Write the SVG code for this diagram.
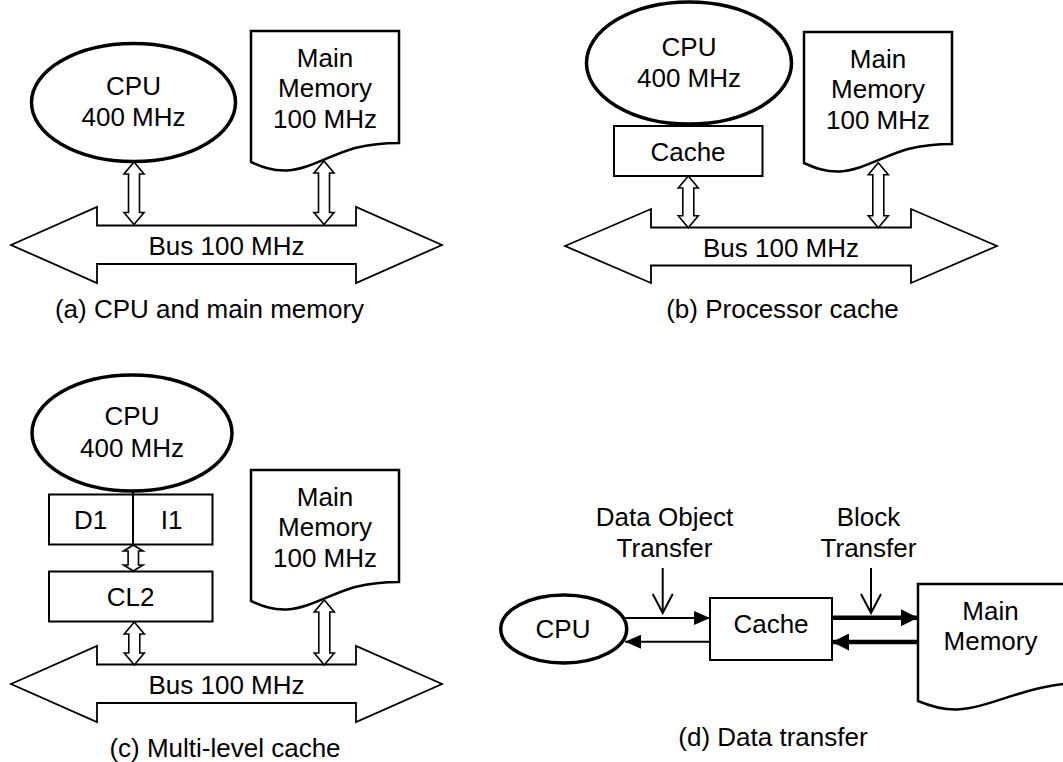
<svg xmlns="http://www.w3.org/2000/svg" width="1063" height="762" viewBox="0 0 1063 762">
<style>
text{font-family:"Liberation Sans",Arial,sans-serif;font-size:26px;fill:#000;text-anchor:middle}
.cpu{fill:#fff;stroke:#000;stroke-width:3.5}
.box{fill:#fff;stroke:#000;stroke-width:2}
.mem{fill:#fff;stroke:#000;stroke-width:2.5;stroke-linejoin:miter}
.bus{fill:#fff;stroke:#000;stroke-width:1.8;stroke-linejoin:miter}
.dbl{fill:#fff;stroke:#000;stroke-width:1.6;stroke-linejoin:miter}
.thin{stroke:#000;stroke-width:2;fill:none}
.thick{stroke:#000;stroke-width:4.5;fill:none}
.ptr{stroke:#000;stroke-width:2;fill:none}
</style>
<defs>
<marker id="hThin" markerUnits="userSpaceOnUse" viewBox="0 0 16 14" refX="16" refY="7" markerWidth="16" markerHeight="14" orient="auto"><path d="M0,0 L16,7 L0,14 Z" fill="#000"/></marker>
<marker id="hThick" markerUnits="userSpaceOnUse" viewBox="0 0 17 17" refX="17" refY="8.5" markerWidth="17" markerHeight="17" orient="auto"><path d="M0,0 L17,8.5 L0,17 Z" fill="#000"/></marker>
<marker id="hOpen" markerUnits="userSpaceOnUse" viewBox="0 0 22 22" refX="20" refY="11" markerWidth="22" markerHeight="22" orient="auto"><path d="M1,1 L20,11 L1,21" fill="none" stroke="#000" stroke-width="2"/></marker>
</defs>

<!-- Panel (a) -->
<g id="a-cpu"><ellipse class="cpu" cx="133.5" cy="102.5" rx="102" ry="59"/><text x="133.5" y="95">CPU</text><text x="133.5" y="126">400 MHz</text></g>
<g id="a-mem"><path class="mem" d="M251,31 H399 V143 C385,143 372,144 355,148 C330,155 310,169 287,170.5 C272,171 262,167 251,162 Z"/><text x="325" y="67">Main</text><text x="325" y="97">Memory</text><text x="325" y="128">100 MHz</text></g>
<g id="a-bus"><path class="bus" d="M11,245 L97,207 L97,225.5 L356,225.5 L356,207 L442,245 L356,283 L356,264 L97,264 L97,283 Z"/><text x="226.5" y="255">Bus 100 MHz</text></g>
<text id="a-caption" x="209.5" y="318">(a) CPU and main memory</text>

<!-- Panel (b) -->
<g id="b-cpu"><ellipse class="cpu" cx="689" cy="63" rx="102.5" ry="61"/><text x="689" y="56">CPU</text><text x="689" y="87">400 MHz</text></g>
<g id="b-cache"><rect class="box" x="614" y="126" width="148.5" height="50"/><text x="688" y="161">Cache</text></g>
<g id="b-mem"><path class="mem" d="M804,32 H952 V144 C938,144 925,145 908,149 C883,156 863,170 840,171.5 C825,172 815,168 804,163 Z"/><text x="878" y="68">Main</text><text x="878" y="98">Memory</text><text x="878" y="129">100 MHz</text></g>
<g id="b-bus"><path class="bus" d="M565,246 L651,209 L651,227.5 L911,227.5 L911,209 L997,246 L911,283 L911,265.5 L651,265.5 L651,283 Z"/><text x="781" y="257">Bus 100 MHz</text></g>
<text id="b-caption" x="782.5" y="318">(b) Processor cache</text>

<!-- Panel (c) -->
<g id="c-cpu"><ellipse class="cpu" cx="132" cy="433" rx="100" ry="58"/><text x="132" y="425">CPU</text><text x="132" y="457">400 MHz</text></g>
<g id="c-l1"><rect class="box" x="49" y="494.5" width="163.5" height="50"/><line x1="133" y1="490" x2="133" y2="544.5" stroke="#000" stroke-width="2"/><text x="90.5" y="529">D1</text><text x="171.5" y="529">I1</text></g>
<g id="c-l2"><rect class="box" x="49" y="571.5" width="163.5" height="50"/><text x="130.5" y="606">CL2</text></g>
<g id="c-mem"><path class="mem" d="M251,470 H399 V582 C385,582 372,583 355,587 C330,594 310,608 287,609.5 C272,610 262,606 251,601 Z"/><text x="325" y="506">Main</text><text x="325" y="536">Memory</text><text x="325" y="567">100 MHz</text></g>
<g id="c-bus"><path class="bus" d="M11,684 L97,646 L97,664.5 L356,664.5 L356,646 L442,684 L356,722 L356,703 L97,703 L97,722 Z"/><text x="226.5" y="694">Bus 100 MHz</text></g>
<text id="c-caption" x="225" y="757">(c) Multi-level cache</text>

<!-- Panel (d) -->
<g id="d-cpu"><ellipse class="cpu" cx="563.7" cy="629" rx="63" ry="34"/><text x="563" y="638">CPU</text></g>
<g id="d-cache"><rect class="box" x="710" y="598" width="122" height="62"/><text x="771" y="632.5">Cache</text></g>
<g id="d-mem"><path class="mem" d="M918,584 H1080 V683 C1070,683 1060,684 1045,687 C1010,694 985,708 957,709.5 C942,710 930,706 918,701 Z"/><text x="990.5" y="620">Main</text><text x="990.5" y="649.5">Memory</text></g>
<g id="d-label1"><text x="664.5" y="526">Data Object</text><text x="664.5" y="557">Transfer</text></g>
<g id="d-label2"><text x="868.5" y="526">Block</text><text x="868.5" y="557">Transfer</text></g>
<text id="d-caption" x="773" y="746">(d) Data transfer</text>

<!-- Connectors -->
<g id="connectors">
<path class="dbl" d="M134,162 L144,174 L139.5,174 L139.5,212.5 L144,212.5 L134,224.5 L124,212.5 L128.5,212.5 L128.5,174 L124,174 Z"/>
<path class="dbl" d="M324,161 L334,173 L329.5,173 L329.5,212.5 L334,212.5 L324,224.5 L314,212.5 L318.5,212.5 L318.5,173 L314,173 Z"/>
<path class="dbl" d="M688.3,176 L698.3,188 L693.8,188 L693.8,215.7 L698.3,215.7 L688.3,227.7 L678.3,215.7 L682.8,215.7 L682.8,188 L678.3,188 Z"/>
<path class="dbl" d="M878.3,162.7 L888.3,174.7 L883.8,174.7 L883.8,215.7 L888.3,215.7 L878.3,227.7 L868.3,215.7 L872.8,215.7 L872.8,174.7 L868.3,174.7 Z"/>
<path class="dbl" d="M133.3,545 L143,551 L138.5,551 L138.5,565 L143,565 L133.3,571 L123.6,565 L128.1,565 L128.1,551 L123.6,551 Z"/>
<path class="dbl" d="M134.3,622 L144.3,634 L139.8,634 L139.8,653 L144.3,653 L134.3,665 L124.3,653 L128.8,653 L128.8,634 L124.3,634 Z"/>
<path class="dbl" d="M324.3,600 L334.3,612 L329.8,612 L329.8,653 L334.3,653 L324.3,665 L314.3,653 L318.8,653 L318.8,612 L314.3,612 Z"/>
<line class="thin" x1="624" y1="618" x2="710" y2="618" marker-end="url(#hThin)"/>
<line class="thin" x1="710" y1="641.7" x2="625" y2="641.7" marker-end="url(#hThin)"/>
<line class="thick" x1="832" y1="617.7" x2="918" y2="617.7" marker-end="url(#hThick)"/>
<line class="thick" x1="918" y1="642" x2="832" y2="642" marker-end="url(#hThick)"/>
<line class="ptr" x1="662.7" y1="568" x2="662.7" y2="613" marker-end="url(#hOpen)"/>
<line class="ptr" x1="871" y1="568" x2="871" y2="613" marker-end="url(#hOpen)"/>
</g>
</svg>
